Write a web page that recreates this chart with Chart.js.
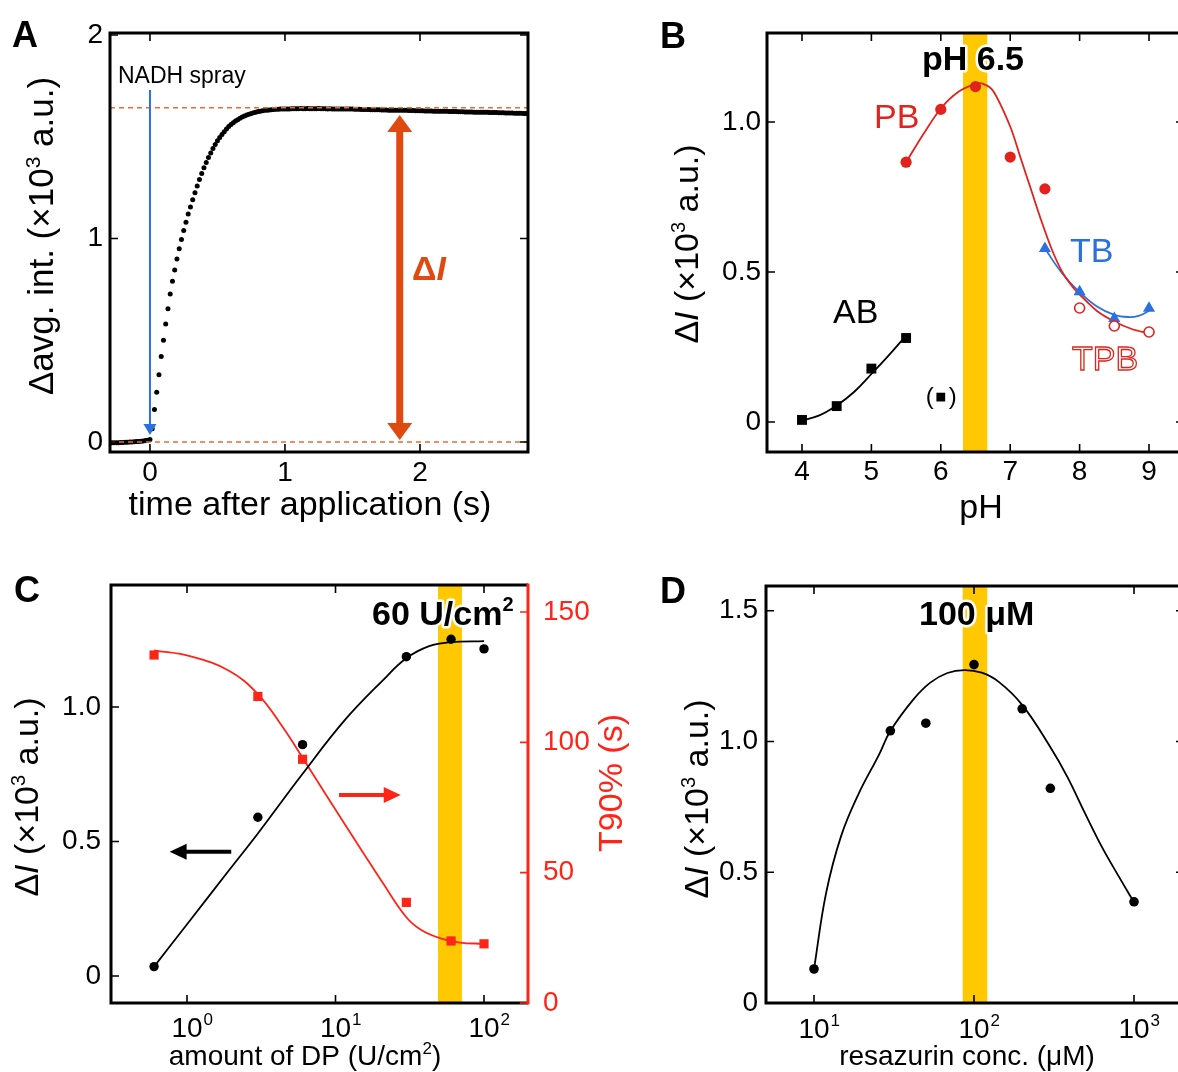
<!DOCTYPE html>
<html>
<head>
<meta charset="utf-8">
<script src="https://cdn.jsdelivr.net/npm/chart.js@4.4.1/dist/chart.umd.min.js"></script>
<style>
  html, body { margin: 0; padding: 0; background: #fff; overflow: hidden; }
  #page { position: relative; width: 1178px; height: 1072px; overflow: hidden; background: #fff; }
  canvas { position: absolute; }
</style>
</head>
<body>
<div id="page">
  <canvas id="chartA" width="640" height="536" style="left:0px;top:0px;width:640px;height:536px"></canvas>
  <canvas id="chartB" width="560" height="536" style="left:640px;top:0px;width:560px;height:536px"></canvas>
  <canvas id="chartC" width="640" height="536" style="left:0px;top:536px;width:640px;height:536px"></canvas>
  <canvas id="chartD" width="560" height="536" style="left:640px;top:536px;width:560px;height:536px"></canvas>
</div>
<script>
// ---------- panel A : averaged intensity after NADH spray (one sample per frame) ----------
const traceStart = -0.3;        // s, first sample
const traceFrameStep = 1 / 60;  // s between samples
const traceDeltaAvg = [
  -0.004, -0.004, -0.003, -0.003, -0.003, -0.002, -0.002, -0.001, -0.001, 0.000, 0.000, 0.001,
  0.002, 0.003, 0.004, 0.005, 0.007, 0.009,
  0.012, 0.065, 0.160, 0.245, 0.330, 0.420, 0.500, 0.580, 0.655, 0.728, 0.790, 0.845,
  0.900, 0.950, 0.995, 1.040, 1.080, 1.120, 1.155, 1.190, 1.225, 1.258, 1.290, 1.320,
  1.348, 1.374, 1.398, 1.420, 1.442, 1.462, 1.480, 1.496, 1.511, 1.525, 1.538, 1.550,
  1.560, 1.569, 1.577, 1.584, 1.591, 1.597, 1.602, 1.607, 1.611, 1.615, 1.618, 1.621,
  1.624, 1.626, 1.628, 1.630, 1.631, 1.632, 1.633, 1.634, 1.635, 1.635, 1.636, 1.636, 1.637,
  1.637, 1.637, 1.638, 1.638, 1.638, 1.638,
  1.639, 1.638, 1.638, 1.639, 1.638, 1.638,
  1.638, 1.638, 1.639, 1.638, 1.638, 1.638,
  1.637, 1.638, 1.637, 1.637, 1.637, 1.637,
  1.636, 1.637, 1.636, 1.636, 1.636, 1.636,
  1.635, 1.635, 1.635, 1.634, 1.634, 1.634,
  1.634, 1.633, 1.633, 1.633, 1.633, 1.633,
  1.632, 1.632, 1.632, 1.631, 1.631, 1.631,
  1.631, 1.630, 1.630, 1.630, 1.630, 1.630,
  1.629, 1.629, 1.629, 1.628, 1.628, 1.628,
  1.628, 1.627, 1.627, 1.627, 1.627, 1.626,
  1.626, 1.626, 1.625, 1.625, 1.625, 1.625,
  1.624, 1.624, 1.624, 1.624, 1.623, 1.623,
  1.623, 1.622, 1.622, 1.622, 1.622, 1.621,
  1.621, 1.621, 1.621, 1.620, 1.620, 1.620,
  1.619, 1.619, 1.619, 1.619, 1.618, 1.618,
  1.618, 1.617, 1.617, 1.617, 1.617, 1.616,
  1.616, 1.616, 1.616, 1.615, 1.615, 1.615
];
const plateauLevel = 1.643;
const sprayTime = 0;
const sprayArrowTop = 1.73;
const sprayArrowTip = 0.035;
const deltaIArrowTime = 1.85;
const deltaIArrowTop = 1.607;
const deltaIArrowBottom = 0.01;
const timeTicks = [0, 1, 2];
const timeTickLabels = ['0', '1', '2'];
const avgTicks = [0, 1, 2];
const avgTickLabels = ['0', '1', '2'];

// ---------- panel B : pH dependence ----------
const phTicks = [4, 5, 6, 7, 8, 9];
const phTickLabels = ['4', '5', '6', '7', '8', '9'];
const phDeltaTicks = [0, 0.5, 1.0];
const phDeltaTickLabels = ['0', '0.5', '1.0'];
const phBand = [6.32, 6.67];
const abPH = [4, 4.5, 5, 5.5];
const abDeltaI = [0.007, 0.053, 0.178, 0.28];
const abOutlierPH = [6];
const abOutlierDeltaI = [0.083];
const abFitPH = [4, 4.25, 4.5, 4.75, 5, 5.25, 5.5];
const abFitDeltaI = [0.005, 0.022, 0.055, 0.1, 0.16, 0.222, 0.288];
const pbPH = [5.5, 6, 6.5, 7, 7.5];
const pbDeltaI = [0.866, 1.042, 1.118, 0.883, 0.777];
const pbFitPH = [5.5, 5.75, 6, 6.25, 6.5, 6.6, 6.75, 7, 7.15, 7.3, 7.45, 7.6, 7.75, 7.9, 8, 8.25, 8.5, 8.75, 9];
const pbFitDeltaI = [0.866, 0.96, 1.045, 1.1, 1.127, 1.128, 1.105, 0.985, 0.88, 0.775, 0.67, 0.575, 0.5, 0.45, 0.425, 0.37, 0.335, 0.31, 0.295];
const tbPH = [7.5, 8, 8.5, 9];
const tbDeltaI = [0.578, 0.434, 0.345, 0.379];
const tbFitPH = [7.5, 7.75, 8, 8.25, 8.5, 8.7, 8.85, 9];
const tbFitDeltaI = [0.578, 0.495, 0.433, 0.385, 0.357, 0.35, 0.354, 0.37];
const tpbPH = [8, 8.5, 9];
const tpbDeltaI = [0.38, 0.32, 0.3];

// ---------- panel C : amount of DP ----------
const dpTicks = [1, 10, 100];
const dpTickExp = ['0', '1', '2'];
const dpDeltaTicks = [0, 0.5, 1.0];
const dpDeltaTickLabels = ['0', '0.5', '1.0'];
const t90Ticks = [0, 50, 100, 150];
const t90TickLabels = ['0', '50', '100', '150'];
const dpBand = [49, 71];
const dpAmount = [0.6, 3, 6, 30, 60, 100];
const dpDeltaI = [0.035, 0.59, 0.86, 1.187, 1.252, 1.216];
const dpT90 = [133.5, 117.6, 93.5, 38.6, 23.8, 22.7];
const dpFitAmount = [0.6, 1.06, 1.93, 3.0, 5.97, 11.5, 20.9, 29.8, 42.7, 60, 100];
const dpFitDeltaI = [0.035, 0.21, 0.395, 0.53, 0.75, 0.95, 1.1, 1.18, 1.226, 1.241, 1.245];
const t90FitAmount = [0.6, 1.06, 1.93, 3.0, 4.43, 5.97, 8.54, 11.5, 15.5, 20.9, 29.8, 37.8, 51, 68.7, 100];
const t90Fit = [135.3, 133, 127.4, 118.5, 105.7, 94.3, 80.3, 68.8, 57.3, 45.9, 33.1, 28, 24.8, 23.2, 22.7];
const leftArrow = { from: 1.985, to: 0.764, level: 0.462 };
const rightArrow = { from: 10.56, to: 27.5, level: 79.8 };

// ---------- panel D : resazurin concentration ----------
const resTicks = [10, 100, 1000];
const resTickExp = ['1', '2', '3'];
const resDeltaTicks = [0, 0.5, 1.0, 1.5];
const resDeltaTickLabels = ['0', '0.5', '1.0', '1.5'];
const resBand = [85, 121];
const resConc = [10, 30, 50, 100, 200, 300, 1000];
const resDeltaI = [0.13, 1.041, 1.07, 1.294, 1.125, 0.821, 0.387];
const resFitConc = [10, 11.9, 14.8, 19, 25.5, 30, 41.7, 53.3, 68.2, 87.3, 111.6, 142.8, 200, 299, 383, 490, 626, 801, 1000];
const resFitDeltaI = [0.13, 0.42, 0.64, 0.80, 0.95, 1.04, 1.16, 1.225, 1.262, 1.273, 1.263, 1.228, 1.14, 0.98, 0.865, 0.73, 0.6, 0.485, 0.385];

// ---------- helpers ----------
const FONT = "'Liberation Sans', Arial, Helvetica, sans-serif";
const f = (size, style) => (style ? style + ' ' : '') + size + 'px ' + FONT;
const TICK = 8;
const RED_B = '#e2231d';
const RED_C = '#ff2418';
const BLUE = '#2a70df';
const GOLD = '#ffc800';
const ORANGE = '#df4a10';
const ORANGE_DASH = '#ee6a34';

const pts = (xs, ys) => xs.map((x, i) => ({ x, y: ys[i] }));

function drawRich(ctx, parts, x, y, opt) {
  opt = opt || {};
  ctx.save();
  ctx.translate(x, y);
  if (opt.rotate) ctx.rotate(opt.rotate);
  ctx.textBaseline = 'alphabetic';
  ctx.textAlign = 'left';
  let w = 0;
  parts.forEach(p => { ctx.font = p.font; w += ctx.measureText(p.text).width; });
  let start = opt.align === 'center' ? -w / 2 : (opt.align === 'right' ? -w : 0);
  if (opt.halo) {
    let cx = start;
    ctx.strokeStyle = '#fff';
    ctx.lineWidth = opt.halo;
    ctx.lineJoin = 'round';
    parts.forEach(p => { ctx.font = p.font; ctx.strokeText(p.text, cx, p.dy || 0); cx += ctx.measureText(p.text).width; });
  }
  let cx = start;
  parts.forEach(p => {
    ctx.font = p.font;
    if (opt.outline) {
      ctx.fillStyle = '#fff';
      ctx.fillText(p.text, cx, p.dy || 0);
      ctx.strokeStyle = opt.color;
      ctx.lineWidth = opt.outline;
      ctx.strokeText(p.text, cx, p.dy || 0);
    } else {
      ctx.fillStyle = opt.color || '#000';
      ctx.fillText(p.text, cx, p.dy || 0);
    }
    cx += ctx.measureText(p.text).width;
  });
  ctx.restore();
}

function text(ctx, str, x, y, font, color, align, baseline) {
  ctx.save();
  ctx.font = font;
  ctx.fillStyle = color || '#000';
  ctx.textAlign = align || 'left';
  ctx.textBaseline = baseline || 'alphabetic';
  ctx.fillText(str, x, y);
  ctx.restore();
}

function drawBox(chart, rightColor) {
  const { ctx, chartArea: a } = chart;
  ctx.save();
  ctx.lineWidth = 3;
  ctx.lineJoin = 'miter';
  ctx.strokeStyle = '#000';
  ctx.beginPath();
  if (rightColor) {
    ctx.moveTo(a.right, a.top); ctx.lineTo(a.left, a.top); ctx.lineTo(a.left, a.bottom); ctx.lineTo(a.right, a.bottom);
    ctx.stroke();
    ctx.strokeStyle = rightColor;
    ctx.beginPath();
    ctx.moveTo(a.right, a.top - 1.5); ctx.lineTo(a.right, a.bottom + 1.5);
    ctx.stroke();
  } else {
    ctx.rect(a.left, a.top, a.right - a.left, a.bottom - a.top);
    ctx.stroke();
  }
  ctx.restore();
}

function drawXTicks(chart, values, mirror) {
  const { ctx, chartArea: a } = chart;
  const sx = chart.scales.x;
  ctx.save();
  ctx.lineWidth = 1.6;
  ctx.strokeStyle = '#000';
  ctx.beginPath();
  values.forEach(v => {
    const p = sx.getPixelForValue(v);
    ctx.moveTo(p, a.bottom); ctx.lineTo(p, a.bottom - TICK);
    if (mirror) { ctx.moveTo(p, a.top); ctx.lineTo(p, a.top + TICK); }
  });
  ctx.stroke();
  ctx.restore();
}

function drawYTicks(chart, id, values, sides, color) {
  const { ctx, chartArea: a } = chart;
  const sy = chart.scales[id];
  ctx.save();
  ctx.lineWidth = 1.6;
  ctx.strokeStyle = color || '#000';
  ctx.beginPath();
  values.forEach(v => {
    const p = sy.getPixelForValue(v);
    if (sides.includes('left')) { ctx.moveTo(a.left, p); ctx.lineTo(a.left + TICK, p); }
    if (sides.includes('right')) { ctx.moveTo(a.right, p); ctx.lineTo(a.right - TICK, p); }
  });
  ctx.stroke();
  ctx.restore();
}

function drawYLabels(chart, id, values, labels, x, align, color) {
  const sy = chart.scales[id];
  values.forEach((v, i) => text(chart.ctx, labels[i], x, sy.getPixelForValue(v), f(28), color, align, 'middle'));
}

function drawXLabels(chart, values, labels, baseline) {
  const sx = chart.scales.x;
  values.forEach((v, i) => text(chart.ctx, labels[i], sx.getPixelForValue(v), baseline, f(28), '#000', 'center'));
}

function drawPowLabels(chart, values, exps, baseline) {
  const ctx = chart.ctx;
  const sx = chart.scales.x;
  values.forEach((v, i) => {
    const p = sx.getPixelForValue(v);
    ctx.save();
    ctx.font = f(28);
    const w = ctx.measureText('10').width;
    ctx.restore();
    text(ctx, '10', p - w / 2, baseline, f(28), '#000', 'left');
    text(ctx, exps[i], p + w / 2 + 1, baseline - 12, f(17), '#000', 'left');
  });
}

function drawBand(chart, range) {
  const { ctx, chartArea: a } = chart;
  const sx = chart.scales.x;
  const x1 = sx.getPixelForValue(range[0]);
  const x2 = sx.getPixelForValue(range[1]);
  ctx.save();
  ctx.fillStyle = GOLD;
  ctx.fillRect(x1, a.top, x2 - x1, a.bottom - a.top);
  ctx.restore();
}

function arrowHead(ctx, tipX, tipY, dirX, dirY, len, halfW) {
  const bx = tipX - dirX * len, by = tipY - dirY * len;
  ctx.beginPath();
  ctx.moveTo(tipX, tipY);
  ctx.lineTo(bx - dirY * halfW, by + dirX * halfW);
  ctx.lineTo(bx + dirY * halfW, by - dirX * halfW);
  ctx.closePath();
  ctx.fill();
}

function arrow(ctx, x1, y1, x2, y2, color, width, len, halfW) {
  const d = Math.hypot(x2 - x1, y2 - y1);
  const ux = (x2 - x1) / d, uy = (y2 - y1) / d;
  ctx.save();
  ctx.strokeStyle = color;
  ctx.fillStyle = color;
  ctx.lineWidth = width;
  ctx.beginPath();
  ctx.moveTo(x1, y1);
  ctx.lineTo(x2 - ux * (len - 1), y2 - uy * (len - 1));
  ctx.stroke();
  arrowHead(ctx, x2, y2, ux, uy, len, halfW);
  ctx.restore();
}

const deltaITitle = [
  { text: 'Δ', font: f(34) },
  { text: 'I', font: f(34, 'italic') },
  { text: ' (×10', font: f(34) },
  { text: '3', font: f(20), dy: -13 },
  { text: ' a.u.)', font: f(34) }
];

function baseOptions(padding, scales) {
  return {
    responsive: false,
    animation: false,
    events: [],
    layout: { padding, autoPadding: false },
    plugins: { legend: { display: false }, tooltip: { enabled: false } },
    scales
  };
}

function hiddenScale(type, min, max, extra) {
  return Object.assign({ type, min, max, bounds: 'data', display: false }, extra || {});
}

function fitLine(data, color, yAxisID, tension) {
  return {
    data, showLine: true, borderColor: color, borderWidth: 1.8, pointRadius: 0,
    tension: tension === undefined ? 0.4 : tension, fill: false, order: 2, yAxisID: yAxisID || 'y'
  };
}

// ---------- chart A ----------
const traceData = traceDeltaAvg.map((v, i) => ({ x: traceStart + i * traceFrameStep, y: v }));

new Chart(document.getElementById('chartA'), {
  type: 'scatter',
  data: {
    datasets: [{
      data: traceData, pointRadius: 2.5, pointBackgroundColor: '#000', pointBorderWidth: 0
    }]
  },
  options: baseOptions({ left: 110, top: 33, right: 112, bottom: 84 }, {
    x: hiddenScale('linear', -0.296, 2.8),
    y: hiddenScale('linear', -0.049, 2.01)
  }),
  plugins: [{
    id: 'panelA',
    afterDatasetsDraw(chart) {
      const { ctx, chartArea: a } = chart;
      const sx = chart.scales.x, sy = chart.scales.y;
      ctx.save();
      ctx.strokeStyle = ORANGE_DASH;
      ctx.lineWidth = 1.5;
      ctx.setLineDash([5, 4]);
      [plateauLevel, 0].forEach(v => {
        const p = sy.getPixelForValue(v);
        ctx.beginPath(); ctx.moveTo(a.left, p); ctx.lineTo(a.right, p); ctx.stroke();
      });
      ctx.restore();
      // spray arrow
      const xs = sx.getPixelForValue(sprayTime);
      arrow(ctx, xs, sy.getPixelForValue(sprayArrowTop), xs, sy.getPixelForValue(sprayArrowTip), BLUE, 2, 11, 6.5);
      // delta I double arrow
      const xd = sx.getPixelForValue(deltaIArrowTime);
      const yt = sy.getPixelForValue(deltaIArrowTop), yb = sy.getPixelForValue(deltaIArrowBottom);
      ctx.save();
      ctx.strokeStyle = ORANGE; ctx.fillStyle = ORANGE; ctx.lineWidth = 7;
      ctx.beginPath(); ctx.moveTo(xd, yt + 15); ctx.lineTo(xd, yb - 15); ctx.stroke();
      arrowHead(ctx, xd, yt, 0, -1, 17, 12.5);
      arrowHead(ctx, xd, yb, 0, 1, 17, 12.5);
      ctx.restore();
    },
    afterDraw(chart) {
      const { ctx, chartArea: a } = chart;
      drawBox(chart);
      drawXTicks(chart, timeTicks, true);
      drawYTicks(chart, 'y', avgTicks, ['left', 'right']);
      drawYLabels(chart, 'y', avgTicks, avgTickLabels, a.left - 7, 'right');
      drawXLabels(chart, timeTicks, timeTickLabels, a.bottom + 29);
      text(ctx, 'time after application (s)', a.left + 200, a.bottom + 63, f(34), '#000', 'center');
      drawRich(ctx, [
        { text: 'Δavg. int. (×10', font: f(35) },
        { text: '3', font: f(21), dy: -13 },
        { text: ' a.u.)', font: f(35) }
      ], a.left - 57, a.top + 203, { rotate: -Math.PI / 2, align: 'center' });
      text(ctx, 'A', a.left - 98, a.top + 14, f(36, 'bold'));
      text(ctx, 'NADH spray', 118, 83, f(23));
      drawRich(ctx, [
        { text: 'Δ', font: f(34, 'bold') },
        { text: 'I', font: f(34, 'italic bold') }
      ], 412, 280, { color: ORANGE });
    }
  }]
});

// ---------- chart B ----------
new Chart(document.getElementById('chartB'), {
  type: 'scatter',
  data: {
    datasets: [
      { data: pts(abPH, abDeltaI), pointStyle: 'rect', pointRadius: 7, pointBackgroundColor: '#000', pointBorderWidth: 0, order: 1 },
      { data: pts(abOutlierPH, abOutlierDeltaI), pointStyle: 'rect', pointRadius: 6.2, pointBackgroundColor: '#000', pointBorderWidth: 0, order: 1 },
      { data: pts(pbPH, pbDeltaI), pointRadius: 5.6, pointBackgroundColor: RED_B, pointBorderWidth: 0, order: 1 },
      { data: pts(tbPH, tbDeltaI), pointStyle: 'triangle', pointRadius: 7, pointBackgroundColor: BLUE, pointBorderWidth: 0, order: 1 },
      { data: pts(tpbPH, tpbDeltaI), pointRadius: 5, pointBackgroundColor: '#fff', pointBorderColor: RED_B, pointBorderWidth: 1.6, order: 0 },
      fitLine(pts(abFitPH, abFitDeltaI), '#000'),
      fitLine(pts(pbFitPH, pbFitDeltaI), RED_B, 'y', 0.3),
      fitLine(pts(tbFitPH, tbFitDeltaI), BLUE)
    ]
  },
  options: baseOptions({ left: 127, top: 33, right: 16, bottom: 84 }, {
    x: hiddenScale('linear', 3.496, 9.504),
    y: hiddenScale('linear', -0.1, 1.2967)
  }),
  plugins: [{
    id: 'panelB',
    beforeDatasetsDraw(chart) { drawBand(chart, phBand); },
    afterDraw(chart) {
      const { ctx, chartArea: a } = chart;
      const sx = chart.scales.x, sy = chart.scales.y;
      drawBox(chart);
      drawXTicks(chart, phTicks, true);
      drawYTicks(chart, 'y', phDeltaTicks, ['left', 'right']);
      drawYLabels(chart, 'y', phDeltaTicks, phDeltaTickLabels, a.left - 6, 'right');
      drawXLabels(chart, phTicks, phTickLabels, a.bottom + 28);
      text(ctx, 'pH', a.left + 214, a.bottom + 66, f(34), '#000', 'center');
      drawRich(ctx, deltaITitle, a.left - 69, a.top + 211, { rotate: -Math.PI / 2, align: 'center' });
      text(ctx, 'B', a.left - 107, a.top + 15, f(36, 'bold'));
      drawRich(ctx, [{ text: 'pH 6.5', font: f(34, 'bold') }], 333, 70, { align: 'center', halo: 5 });
      text(ctx, 'PB', 234, 128, f(34), RED_B);
      text(ctx, 'AB', 193, 323, f(34), '#000');
      text(ctx, 'TB', 430, 262, f(34), BLUE);
      drawRich(ctx, [{ text: 'TPB', font: f(34) }], 432, 370, { color: RED_B, outline: 1.3 });
      const ox = sx.getPixelForValue(abOutlierPH[0]), oy = sy.getPixelForValue(abOutlierDeltaI[0]);
      text(ctx, '(', ox - 11, oy, f(24), '#000', 'center', 'middle');
      text(ctx, ')', ox + 12, oy, f(24), '#000', 'center', 'middle');
    }
  }]
});

// ---------- chart C ----------
new Chart(document.getElementById('chartC'), {
  type: 'scatter',
  data: {
    datasets: [
      { data: pts(dpAmount, dpDeltaI), pointRadius: 4.7, pointBackgroundColor: '#000', pointBorderWidth: 0, order: 1 },
      { data: pts(dpAmount, dpT90), yAxisID: 'y2', pointStyle: 'rect', pointRadius: 6.5, pointBackgroundColor: RED_C, pointBorderWidth: 0, order: 1 },
      fitLine(pts(dpFitAmount, dpFitDeltaI), '#000'),
      fitLine(pts(t90FitAmount, t90Fit), RED_C, 'y2')
    ]
  },
  options: baseOptions({ left: 111, top: 49, right: 112, bottom: 69 }, {
    x: hiddenScale('logarithmic', 0.3077, 197.8),
    y: hiddenScale('linear', -0.1004, 1.4535),
    y2: hiddenScale('linear', 0, 160.36, { position: 'right' })
  }),
  plugins: [{
    id: 'panelC',
    beforeDatasetsDraw(chart) { drawBand(chart, dpBand); },
    afterDraw(chart) {
      const { ctx, chartArea: a } = chart;
      const sx = chart.scales.x, sy = chart.scales.y, sy2 = chart.scales.y2;
      drawBox(chart, RED_C);
      drawXTicks(chart, dpTicks, true);
      drawYTicks(chart, 'y', dpDeltaTicks, ['left']);
      drawYTicks(chart, 'y2', t90Ticks, ['right'], RED_C);
      drawYLabels(chart, 'y', dpDeltaTicks, dpDeltaTickLabels, a.left - 10, 'right');
      drawYLabels(chart, 'y2', t90Ticks, t90TickLabels, a.right + 15, 'left', RED_C);
      drawPowLabels(chart, dpTicks, dpTickExp, a.bottom + 34);
      drawRich(ctx, [
        { text: 'amount of DP (U/cm', font: f(28) },
        { text: '2', font: f(17), dy: -11 },
        { text: ')', font: f(28) }
      ], a.left + 194, a.bottom + 62, { align: 'center' });
      drawRich(ctx, deltaITitle, a.left - 73, a.top + 212, { rotate: -Math.PI / 2, align: 'center' });
      drawRich(ctx, [{ text: 'T90% (s)', font: f(34) }], a.right + 94, a.top + 198, { rotate: -Math.PI / 2, align: 'center', color: RED_C });
      text(ctx, 'C', a.left - 97, a.top + 17, f(36, 'bold'));
      drawRich(ctx, [
        { text: '60 U/cm', font: f(34, 'bold') },
        { text: '2', font: f(20, 'bold'), dy: -14 }
      ], 372, 89, { halo: 5 });
      arrow(ctx, sx.getPixelForValue(leftArrow.from), sy.getPixelForValue(leftArrow.level),
        sx.getPixelForValue(leftArrow.to), sy.getPixelForValue(leftArrow.level), '#000', 4, 17, 8);
      arrow(ctx, sx.getPixelForValue(rightArrow.from), sy2.getPixelForValue(rightArrow.level),
        sx.getPixelForValue(rightArrow.to), sy2.getPixelForValue(rightArrow.level), RED_C, 4, 17, 8);
    }
  }]
});

// ---------- chart D ----------
new Chart(document.getElementById('chartD'), {
  type: 'scatter',
  data: {
    datasets: [
      { data: pts(resConc, resDeltaI), pointRadius: 4.8, pointBackgroundColor: '#000', pointBorderWidth: 0, order: 1 },
      fitLine(pts(resFitConc, resFitDeltaI), '#000')
    ]
  },
  options: baseOptions({ left: 126, top: 50, right: 16, bottom: 69 }, {
    x: hiddenScale('logarithmic', 5.012, 2053),
    y: hiddenScale('linear', 0, 1.5946)
  }),
  plugins: [{
    id: 'panelD',
    beforeDatasetsDraw(chart) { drawBand(chart, resBand); },
    afterDraw(chart) {
      const { ctx, chartArea: a } = chart;
      drawBox(chart);
      drawXTicks(chart, resTicks, true);
      drawYTicks(chart, 'y', resDeltaTicks, ['left', 'right']);
      drawYLabels(chart, 'y', resDeltaTicks, resDeltaTickLabels, a.left - 8, 'right');
      drawPowLabels(chart, resTicks, resTickExp, a.bottom + 35);
      text(ctx, 'resazurin conc. (μM)', a.left + 201, a.bottom + 62, f(28), '#000', 'center');
      drawRich(ctx, deltaITitle, a.left - 58, a.top + 213, { rotate: -Math.PI / 2, align: 'center' });
      text(ctx, 'D', a.left - 106, a.top + 17, f(36, 'bold'));
      drawRich(ctx, [{ text: '100 μM', font: f(34, 'bold') }], 279, 89, { halo: 5 });
    }
  }]
});
</script>
</body>
</html>
